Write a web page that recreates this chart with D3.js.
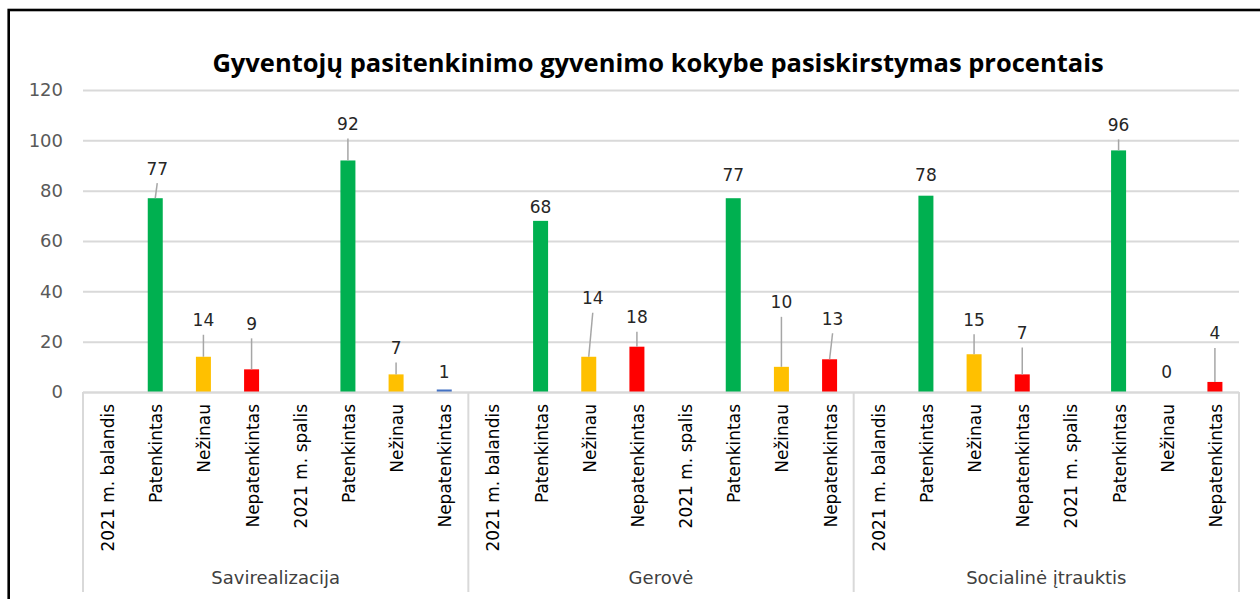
<!DOCTYPE html>
<html lang="lt">
<head>
<meta charset="utf-8">
<title>Gyventojų pasitenkinimas</title>
<script src="https://d3js.org/d3.v7.min.js"></script>
<style>
  body { margin: 0; background: #fff; }
  text { font-family: "DejaVu Sans", sans-serif; }
</style>
</head>
<body>
<script>
// data
var groups = ["Savirealizacija", "Gerovė", "Socialinė įtrauktis"];
var categories = ["2021 m. balandis", "Patenkintas", "Nežinau", "Nepatenkintas",
                  "2021 m. spalis", "Patenkintas", "Nežinau", "Nepatenkintas"];
// null = no bar (period header rows)
var values = [
  null, 77, 14, 9, null, 92, 7, 1,
  null, 68, 14, 18, null, 77, 10, 13,
  null, 78, 15, 7, null, 96, 0, 4
];
var colorsByCat = {"Patenkintas": "#00B050", "Nežinau": "#FFC000", "Nepatenkintas": "#FF0000"};
var yTicks = [0, 20, 40, 60, 80, 100, 120];

// label placement: px above the bar top, px sideways, leader line on/off
var labelLift = [
  0, 30, 37, 46, 0, 37, 27, 18,
  0, 14, 59, 30, 0, 24, 65, 41,
  0, 21, 35, 42, 0, 26, 21, 49
];
var labelShift = [
  0, 2, 0, 0, 0, 0, 0, 0,
  0, 0, 4, 0, 0, 0, 0, 3,
  0, 0, 0, 0, 0, 0, 0, 0
];
var leader = [
  0, 1, 1, 1, 0, 1, 1, 0,
  0, 0, 1, 1, 0, 0, 1, 1,
  0, 0, 1, 1, 0, 1, 0, 1
];

var W = 1260, H = 599;
var plotL = 83, plotR = 1239, plotT = 90, plotB = 392;

var svg = d3.select("body").append("svg").attr("width", W).attr("height", H);

// outer frame
svg.append("rect").attr("x", 8.7).attr("y", 10).attr("width", W + 20).attr("height", H + 20)
  .attr("fill", "none").attr("stroke", "#000").attr("stroke-width", 2.6);

var rows = values.map(function(v, i) {
  return {i: i, group: groups[Math.floor(i / 8)], cat: categories[i % 8], value: v};
});

var x = d3.scaleBand().domain(d3.range(rows.length)).range([plotL, plotR]);
var y = d3.scaleLinear().domain([0, 120]).range([plotB, plotT]);

// title
svg.append("text").attr("x", 658).attr("y", 72).attr("text-anchor", "middle")
  .style("font-family", "'Open Sans', sans-serif")
  .style("font-size", "25.5px").style("font-weight", "bold").attr("fill", "#000")
  .text("Gyventojų pasitenkinimo gyvenimo kokybe pasiskirstymas procentais");

// grid + y labels
var yAxis = d3.axisLeft(y).tickValues(yTicks).tickSize(-(plotR - plotL)).tickPadding(20);
var gy = svg.append("g").attr("transform", "translate(" + plotL + ",0)").call(yAxis);
gy.select(".domain").remove();
gy.selectAll(".tick line").attr("stroke", "#d9d9d9").attr("stroke-width", 2);
gy.selectAll(".tick text").attr("fill", "#595959").style("font-size", "18px")
  .style("font-family", "'DejaVu Sans', sans-serif");

// bars
svg.selectAll(".bar").data(rows.filter(function(d) { return d.value !== null; }))
  .enter().append("rect")
  .attr("class", "bar")
  .attr("x", function(d) { return x(d.i) + x.bandwidth() / 2 - 7.5; })
  .attr("width", 15)
  .attr("y", function(d) { return y(d.value); })
  .attr("height", function(d) { return y(0) - y(d.value); })
  .attr("fill", function(d) { return d.value === 1 ? "#4472C4" : colorsByCat[d.cat]; });

// category axis line
svg.append("line").attr("x1", plotL).attr("x2", plotR).attr("y1", plotB + 0.5).attr("y2", plotB + 0.5)
  .attr("stroke", "#d9d9d9").attr("stroke-width", 2);

// group separators
d3.range(groups.length + 1).forEach(function(g) {
  var gx = g === groups.length ? plotR : x(g * 8);
  svg.append("line").attr("x1", gx).attr("x2", gx).attr("y1", plotB).attr("y2", 592)
    .attr("stroke", "#d9d9d9").attr("stroke-width", 2);
});

// data labels + leader lines
rows.forEach(function(d) {
  if (d.value === null) return;
  var cx = x(d.i) + x.bandwidth() / 2;
  var yt = y(d.value);
  var ly = yt - labelLift[d.i];
  var lx = cx + labelShift[d.i];
  if (leader[d.i]) {
    svg.append("line").attr("x1", cx).attr("y1", yt).attr("x2", lx).attr("y2", ly + 15)
      .attr("stroke", "#a6a6a6").attr("stroke-width", 1.5);
  }
  svg.append("text").attr("x", lx).attr("y", ly + 6.5).attr("text-anchor", "middle")
    .attr("fill", "#262626").style("font-size", "17px").text(d.value);
});

// category labels (rotated)
rows.forEach(function(d) {
  var cx = x(d.i) + x.bandwidth() / 2;
  svg.append("text").attr("transform", "translate(" + (cx + 7) + "," + 404 + ") rotate(-90)")
    .attr("text-anchor", "end").attr("fill", "#000").style("font-size", "17px")
    .text(d.cat);
});

// group labels
groups.forEach(function(g, k) {
  var x0 = x(k * 8), x1 = k === groups.length - 1 ? plotR : x(k * 8 + 8);
  svg.append("text").attr("x", (x0 + x1) / 2).attr("y", 584).attr("text-anchor", "middle")
    .attr("fill", "#404040").style("font-size", "18px").text(g);
});
</script>
</body>
</html>
